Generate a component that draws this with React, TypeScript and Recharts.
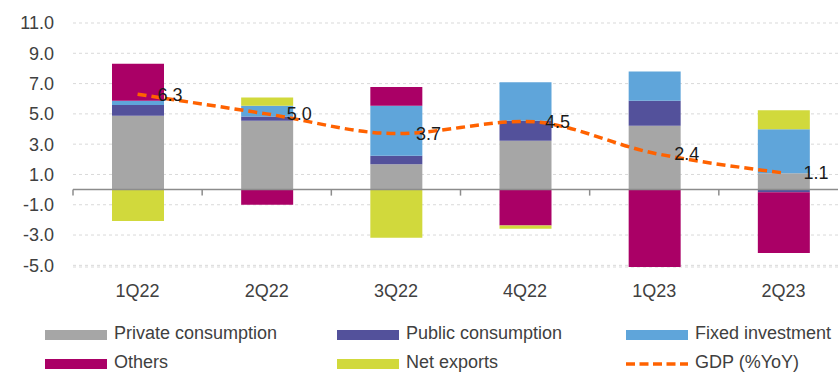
import React from "react";
import {
  ComposedChart, Bar, Line, XAxis, YAxis, CartesianGrid,
  ReferenceLine, LabelList,
} from "recharts";

const quarters = ["1Q22", "2Q22", "3Q22", "4Q22", "1Q23", "2Q23"];
const privateCons = [4.87, 4.54, 1.67, 3.22, 4.21, 1.08];
const publicCons = [0.72, 0.29, 0.57, 1.32, 1.65, -0.17];
const fixedInv = [0.27, 0.7, 3.29, 2.55, 1.93, 2.91];
const others = [2.45, -1.0, 1.25, -2.37, -5.11, -4.01];
const netExports = [-2.08, 0.55, -3.18, -0.22, 0.0, 1.25];
const gdp = [6.3, 5.0, 3.7, 4.5, 2.4, 1.1];
const yTicks = [11, 9, 7, 5, 3, 1, -1, -3, -5];

const series = [
  { key: "private", name: "Private consumption", color: "#a6a6a6", values: privateCons },
  { key: "public", name: "Public consumption", color: "#53519b", values: publicCons },
  { key: "fixed", name: "Fixed investment", color: "#5fa5da", values: fixedInv },
  { key: "others", name: "Others", color: "#aa0066", values: others },
  { key: "netexp", name: "Net exports", color: "#d1d93c", values: netExports },
];
const GDP_COLOR = "#ff6200";

const data = quarters.map((q, i) => {
  const row: Record<string, string | number> = { quarter: q, gdp: gdp[i] };
  series.forEach((s) => { row[s.key] = s.values[i]; });
  return row;
});

// legend order as in the original (row by row, 3 columns)
const legendItems = [
  { name: "Private consumption", color: "#a6a6a6", dashed: false },
  { name: "Public consumption", color: "#53519b", dashed: false },
  { name: "Fixed investment", color: "#5fa5da", dashed: false },
  { name: "Others", color: "#aa0066", dashed: false },
  { name: "Net exports", color: "#d1d93c", dashed: false },
  { name: "GDP (%YoY)", color: GDP_COLOR, dashed: true },
];
const legendCols = [45, 337, 626];
const legendRows = [333, 362];

// zero axis line with tick marks between categories
const ZeroAxis = (props: any) => {
  const { x1, x2, y1 } = props;
  const step = (x2 - x1) / quarters.length;
  const ticks = [];
  for (let i = 0; i <= quarters.length; i++) {
    const x = x1 + step * i;
    ticks.push(<line key={i} x1={x} x2={x} y1={y1} y2={y1 + 6} stroke="#8c8c8c" strokeWidth={1.5} />);
  }
  return (
    <g>
      <line x1={x1} x2={x2} y1={y1} y2={y1} stroke="#8c8c8c" strokeWidth={1.5} />
      {ticks}
    </g>
  );
};

export default function App() {
  const font = "'Liberation Sans', Arial, sans-serif";
  return (
    <div style={{ position: "absolute", left: 0, top: 0, width: 838, height: 373, overflow: "hidden", background: "#fff", fontFamily: font }}>
      <ComposedChart
        width={848}
        height={373}
        data={data}
        stackOffset="sign"
        margin={{ top: 23, right: 0, bottom: 76, left: 0 }}
      >
        <CartesianGrid vertical={false} stroke="#d9d9d9" strokeDasharray="3 3" />
        <XAxis
          dataKey="quarter"
          axisLine={false}
          tickLine={false}
          tickSize={0}
          tickMargin={17}
          height={30}
          tick={{ fill: "#404040", fontSize: 18, fontFamily: font }}
        />
        <YAxis
          domain={[-5, 11]}
          ticks={yTicks}
          width={73}
          axisLine={false}
          tickLine={false}
          tickSize={0}
          tickMargin={19}
          tickFormatter={(v: number) => v.toFixed(1)}
          tick={{ fill: "#404040", fontSize: 18, fontFamily: font }}
        />
        {series.map((s) => (
          <Bar
            key={s.key}
            dataKey={s.key}
            name={s.name}
            stackId="a"
            fill={s.color}
            barSize={52}
            isAnimationActive={false}
          />
        ))}
        <ReferenceLine y={0} shape={ZeroAxis} />
        <Line
          type="monotone"
          dataKey="gdp"
          name="GDP (%YoY)"
          stroke={GDP_COLOR}
          strokeWidth={3.5}
          strokeDasharray="9 5"
          dot={false}
          isAnimationActive={false}
        >
          <LabelList
            dataKey="gdp"
            position="right"
            offset={20}
            formatter={(v: any) => Number(v).toFixed(1)}
            style={{ fill: "#1a1a1a", fontSize: 18, fontFamily: font }}
          />
        </Line>
      </ComposedChart>
      {legendItems.map((item, i) => {
        const left = legendCols[i % 3];
        const cy = legendRows[Math.floor(i / 3)];
        return (
          <div key={item.name} style={{ position: "absolute", left, top: cy - 11, height: 22, display: "flex", alignItems: "center", whiteSpace: "nowrap" }}>
            {item.dashed ? (
              <svg width={62} height={10} style={{ marginRight: 7, marginTop: 3 }}>
                <line x1={0} x2={62} y1={5} y2={5} stroke={item.color} strokeWidth={3.5} strokeDasharray="9 4.5" />
              </svg>
            ) : (
              <div style={{ width: 62, height: 10, background: item.color, marginRight: 7, marginTop: 3 }} />
            )}
            <span style={{ fontSize: 18, lineHeight: "20px", color: "#404040" }}>{item.name}</span>
          </div>
        );
      })}
    </div>
  );
}
